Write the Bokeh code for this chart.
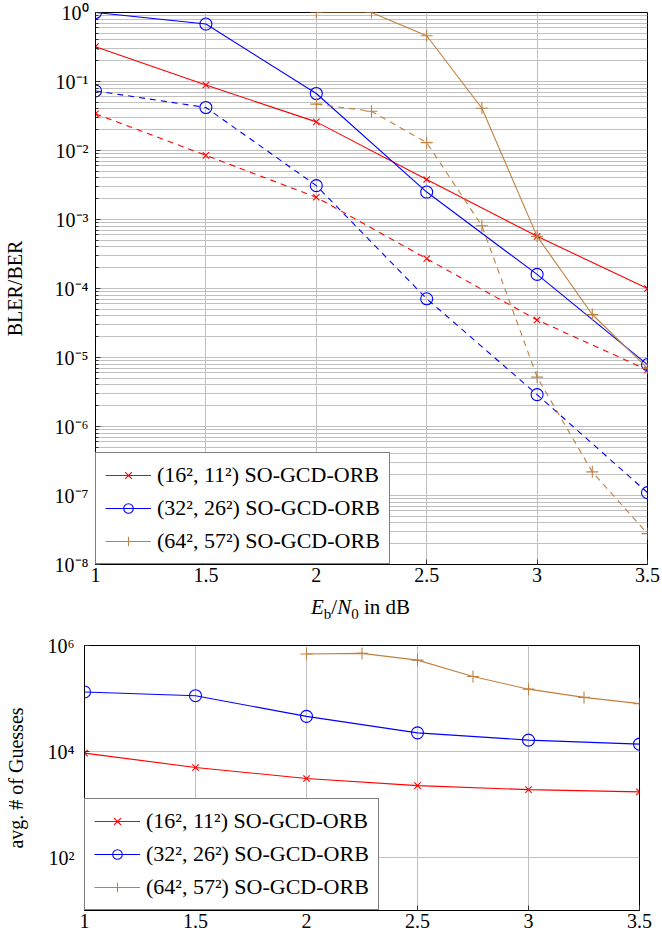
import numpy as np
from bokeh.plotting import figure
from bokeh.models import (FixedTicker, CustomJSTickFormatter, Legend, LegendItem,
                          Range1d, Div)
from bokeh.layouts import column, row
from bokeh.embed import file_html
from bokeh.resources import INLINE

# ---------------- data ----------------
snr = [1, 1.5, 2, 2.5, 3, 3.5]
snr_64 = [2, 2.25, 2.5, 2.75, 3, 3.25, 3.5]

bler_16 = [0.32, 0.089, 0.026, 0.0038, 5.7e-4, 1.0e-4]
ber_16 = [0.034, 0.0085, 0.0021, 2.7e-4, 3.5e-5, 6.6e-6]
bler_32 = [1.0, 0.68, 0.067, 0.0025, 1.6e-4, 7.9e-6]
ber_32 = [0.073, 0.042, 0.0031, 7.1e-5, 2.9e-6, 1.1e-7]
bler_64 = [1.0, 1.0, 0.46, 0.041, 5.7e-4, 4.2e-5, 7.0e-6]
ber_64 = [0.047, 0.037, 0.013, 8.1e-4, 5.2e-6, 2.2e-7, 2.8e-8]

guess_16 = [9300, 5000, 3100, 2270, 1910, 1730]
guess_32 = [133000, 113000, 46000, 22500, 16400, 13800]
guess_64 = [690000, 710000, 530000, 260000, 150000, 105000, 80000]

labels = ["(16\u00b2, 11\u00b2) SO-GCD-ORB",
          "(32\u00b2, 26\u00b2) SO-GCD-ORB",
          "(64\u00b2, 57\u00b2) SO-GCD-ORB"]
x_ticks = [1, 1.5, 2, 2.5, 3, 3.5]
y_ticks_top = [10.0 ** e for e in range(-8, 1)]
y_minor_top = [k * 10.0 ** e for e in range(-8, 0) for k in range(2, 10)]
y_ticks_bot = [1e2, 1e4, 1e6]

# ---------------- style ----------------
FONT = "Liberation Serif"
RED, BLUE, BROWN = "#ff0000", "#0000ff", "#bf8040"
GRID = "#c0c0c0"
TICK_FS = "20px"

sup_code = """
const m = {'-':'\u207b','0':'\u2070','1':'\u00b9','2':'\u00b2','3':'\u00b3','4':'\u2074',
           '5':'\u2075','6':'\u2076','7':'\u2077','8':'\u2078','9':'\u2079'};
const e = Math.round(Math.log10(tick));
return '10' + String(e).split('').map(c => m[c]).join('');
"""
x_code = "return String(tick);"


def style(p, yticks, yminor, ylabel, tick_standoff, ylabel_standoff):
    p.outline_line_color = "black"
    p.outline_line_width = 1
    p.xaxis.ticker = FixedTicker(ticks=x_ticks)
    p.xaxis.formatter = CustomJSTickFormatter(code=x_code)
    p.yaxis.ticker = FixedTicker(ticks=yticks, minor_ticks=yminor)
    p.yaxis.formatter = CustomJSTickFormatter(code=sup_code)
    for ax in (p.xaxis[0], p.yaxis[0]):
        ax.axis_line_color = "black"
        ax.major_tick_in = 5
        ax.major_tick_out = 0
        ax.minor_tick_in = 3
        ax.minor_tick_out = 0
        ax.major_tick_line_color = "#333333"
        ax.minor_tick_line_color = "#333333"
        ax.major_label_text_font = FONT
        ax.major_label_text_font_size = TICK_FS
        ax.major_label_text_color = "black"
        ax.axis_label_text_font = FONT
        ax.axis_label_text_font_size = "20px"
        ax.axis_label_text_font_style = "normal"
        ax.axis_label_text_color = "black"
    p.xaxis[0].major_label_standoff = 3
    p.yaxis[0].major_label_standoff = tick_standoff
    p.xaxis[0].minor_tick_in = 0
    p.yaxis[0].axis_label = ylabel
    p.yaxis[0].axis_label_standoff = ylabel_standoff
    p.xgrid.grid_line_color = GRID
    p.ygrid.grid_line_color = GRID
    if yminor:
        p.ygrid.minor_grid_line_color = GRID


def series(p, x, y, color, marker, size, dash="solid"):
    ln = p.line(x, y, line_color=color, line_width=1.1, line_dash=dash)
    sc = p.scatter(x, y, marker=marker, size=size, line_color=color,
                   fill_color=None, line_width=1.1)
    return ln, sc


def make_legend(p, items):
    lg = Legend(items=items, location="bottom_left")
    lg.margin = 0
    lg.padding = 9
    lg.spacing = 7
    lg.border_line_color = "black"
    lg.border_line_width = 1
    lg.background_fill_color = "white"
    lg.background_fill_alpha = 1
    lg.label_text_font = FONT
    lg.label_text_font_size = "22px"
    lg.label_text_color = "black"
    lg.glyph_width = 46
    lg.glyph_height = 24
    lg.label_height = 24
    lg.label_standoff = 6
    p.add_layout(lg)


# ---------------- top figure ----------------
p1 = figure(width=662, height=590, x_range=Range1d(1, 3.5), y_range=Range1d(1e-8, 1),
            y_axis_type="log", output_backend="svg", toolbar_location=None,
            min_border_left=93, min_border_right=15, min_border_top=12, min_border_bottom=26)
style(p1, y_ticks_top, y_minor_top, "BLER/BER", 7, 26)

dash = "6 5"
l16, s16 = series(p1, snr, bler_16, RED, "x", 9)
series(p1, snr, ber_16, RED, "x", 9, dash)
l32, s32 = series(p1, snr, bler_32, BLUE, "circle", 12)
series(p1, snr, ber_32, BLUE, "circle", 12, dash)
l64, s64 = series(p1, snr_64, bler_64, BROWN, "cross", 12)
series(p1, snr_64, ber_64, BROWN, "cross", 12, dash)

make_legend(p1, [LegendItem(label=labels[0], renderers=[l16, s16]),
                 LegendItem(label=labels[1], renderers=[l32, s32]),
                 LegendItem(label=labels[2], renderers=[l64, s64])])

# x-axis label of the top plot: E_b/N_0 in dB
xlabel = Div(
    text=("<div style=\"font-family:'Liberation Serif'; font-size:21px; color:black; "
          "white-space:nowrap; padding-left:311px; padding-top:2px; line-height:30px;\">"
          "<i>E</i><sub style=\"font-size:15px; line-height:0\">b</sub>/"
          "<i>N</i><sub style=\"font-size:15px; line-height:0\">0</sub>&nbsp;in&nbsp;dB</div>"),
    width=662, height=28, margin=0)

# ---------------- bottom figure ----------------
p2 = figure(width=654, height=318, x_range=Range1d(1, 3.5), y_range=Range1d(10, 1e6),
            y_axis_type="log", output_backend="svg", toolbar_location=None,
            min_border_left=84, min_border_right=15, min_border_top=27, min_border_bottom=26)
style(p2, y_ticks_bot, [], "avg. # of Guesses", 10, 18)

g16l, g16s = series(p2, snr, guess_16, RED, "x", 9)
g32l, g32s = series(p2, snr, guess_32, BLUE, "circle", 12)
g64l, g64s = series(p2, snr_64, guess_64, BROWN, "cross", 12)
make_legend(p2, [LegendItem(label=labels[0], renderers=[g16l, g16s]),
                 LegendItem(label=labels[1], renderers=[g32l, g32s]),
                 LegendItem(label=labels[2], renderers=[g64l, g64s])])

layout = column(row(p1), xlabel, row(p2), spacing=0)
open("out.html", "w").write(file_html(layout, INLINE))
